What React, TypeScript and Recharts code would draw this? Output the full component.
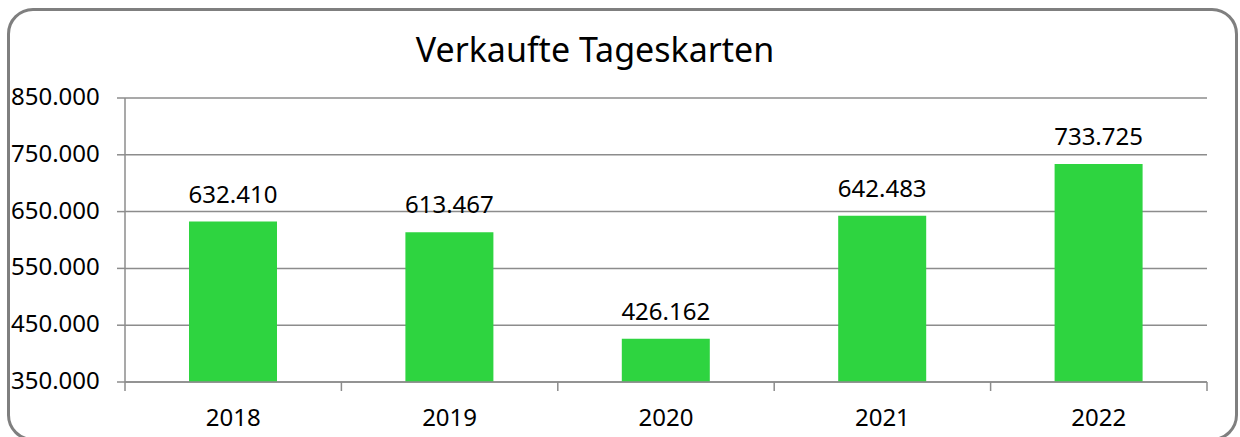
import { Bar, BarChart, CartesianGrid, LabelList, XAxis, YAxis } from "recharts";

const years = ["2018", "2019", "2020", "2021", "2022"];
const soldTickets = [632410, 613467, 426162, 642483, 733725];
const yTicks = [350000, 450000, 550000, 650000, 750000, 850000];

const data = years.map((year, i) => ({ year, value: soldTickets[i] }));

const GREEN = "#2ed440";
const GRID = "#8c8c8c";
const FONT = "'Noto Sans', 'Open Sans', sans-serif";

const fmt = (v: number) => String(v).replace(/\B(?=(\d{3})+(?!\d))/g, ".");

function YTick(props: any) {
  const { y, payload } = props;
  return (
    <text x={11} y={y} dy={7} textAnchor="start" fontSize={24} fontFamily={FONT} fill="#000">
      {fmt(payload.value)}
    </text>
  );
}

function XTick(props: any) {
  const { x, y, payload, index } = props;
  const half = payload.offset ?? 108.2;
  const left = x - half;
  return (
    <g>
      <line x1={left} x2={left} y1={382} y2={391} stroke={GRID} strokeWidth={1.5} />
      {index === years.length - 1 && (
        <line x1={x + half} x2={x + half} y1={382} y2={391} stroke={GRID} strokeWidth={1.5} />
      )}
      <text x={x} y={y} dy={36} textAnchor="middle" fontSize={24} fontFamily={FONT} fill="#000">
        {payload.value}
      </text>
    </g>
  );
}

export default function App() {
  return (
    <div style={{ position: "absolute", left: 0, top: 0, width: 1240, height: 437, background: "#fff", overflow: "hidden" }}>
      <style>{`body{margin:0}`}</style>
      <div
        style={{
          position: "absolute",
          left: 7,
          top: 8,
          width: 1231,
          height: 433,
          border: "3px solid #7f7f7f",
          borderRadius: 26,
          boxSizing: "border-box",
        }}
      />
      <div
        style={{
          position: "absolute",
          top: 26,
          left: 0,
          width: 1190,
          textAlign: "center",
          fontFamily: FONT,
          fontSize: 34,
          color: "#000",
        }}
      >
        Verkaufte Tageskarten
      </div>
      <div style={{ position: "absolute", left: 0, top: 0 }}>
        <BarChart
          width={1240}
          height={437}
          data={data}
          margin={{ top: 98, right: 33, left: 5, bottom: 15 }}
          barSize={88}
        >
          <CartesianGrid vertical={false} stroke={GRID} strokeWidth={1.5} />
          <XAxis
            dataKey="year"
            height={40}
            axisLine={{ stroke: GRID, strokeWidth: 1.5 }}
            tickLine={false}
            tick={<XTick />}
            interval={0}
          />
          <YAxis
            width={120}
            domain={[350000, 850000]}
            ticks={yTicks}
            interval={0}
            allowDataOverflow
            axisLine={{ stroke: GRID, strokeWidth: 1.5 }}
            tickLine={{ stroke: GRID, strokeWidth: 1.5 }}
            tickSize={8}
            tick={<YTick />}
          />
          <Bar dataKey="value" fill={GREEN} isAnimationActive={false}>
            <LabelList
              dataKey="value"
              position="top"
              offset={19}
              formatter={(v: any) => fmt(Number(v))}
              style={{ fontSize: 24, fontFamily: FONT, fill: "#000" }}
            />
          </Bar>
        </BarChart>
      </div>
    </div>
  );
}
